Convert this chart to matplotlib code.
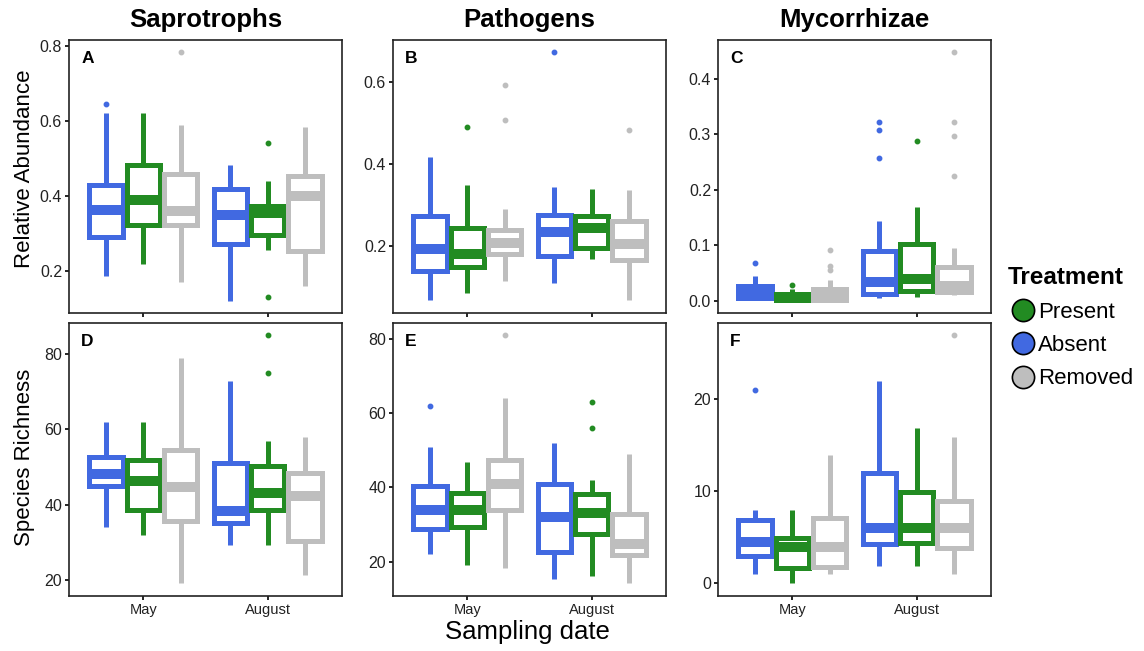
import matplotlib
matplotlib.use("Agg")
import matplotlib.pyplot as plt
from matplotlib.lines import Line2D

plt.rcParams['font.family'] = ['Liberation Sans', 'DejaVu Sans']

dates = ["May", "August"]
treatments = ["Absent", "Present", "Removed"]          # drawing order within each date
legend_order = ["Present", "Absent", "Removed"]
colors = {"Absent": "#4169E1", "Present": "#228B22", "Removed": "#BEBEBE"}
groups = ["Saprotrophs", "Pathogens", "Mycorrhizae"]
metrics = ["Relative Abundance", "Species Richness"]
letters = ["A", "B", "C", "D", "E", "F"]

# each list: May-Absent, May-Present, May-Removed, Aug-Absent, Aug-Present, Aug-Removed
A_lo  = [0.186, 0.218, 0.170, 0.120, 0.256, 0.160]
A_q1  = [0.291, 0.323, 0.322, 0.271, 0.297, 0.254]
A_med = [0.363, 0.390, 0.360, 0.348, 0.355, 0.400]
A_q3  = [0.428, 0.482, 0.459, 0.419, 0.373, 0.453]
A_hi  = [0.620, 0.620, 0.589, 0.483, 0.441, 0.583]
A_out = [[0.644], [], [0.783], [], [0.541, 0.131], []]

B_lo  = [0.069, 0.085, 0.116, 0.111, 0.169, 0.069]
B_q1  = [0.139, 0.150, 0.181, 0.175, 0.194, 0.165]
B_med = [0.193, 0.180, 0.207, 0.235, 0.243, 0.206]
B_q3  = [0.272, 0.243, 0.240, 0.275, 0.273, 0.261]
B_hi  = [0.416, 0.348, 0.289, 0.343, 0.338, 0.336]
B_out = [[], [0.490], [0.592, 0.507], [0.671], [], [0.482]]

C_lo  = [0.003, 0.000, 0.000, 0.005, 0.007, 0.010]
C_q1  = [0.005, 0.001, 0.002, 0.012, 0.017, 0.015]
C_med = [0.018, 0.006, 0.010, 0.033, 0.040, 0.027]
C_q3  = [0.026, 0.012, 0.021, 0.090, 0.103, 0.060]
C_hi  = [0.045, 0.022, 0.038, 0.144, 0.169, 0.095]
C_out = [[0.069], [0.029], [0.091, 0.063, 0.055], [0.322, 0.308, 0.258], [0.288], [0.448, 0.322, 0.297, 0.225]]

D_lo  = [34.1, 32.0, 19.1, 29.2, 29.2, 21.2]
D_q1  = [44.9, 38.7, 35.6, 35.2, 38.6, 30.3]
D_med = [48.3, 46.2, 44.6, 38.3, 43.2, 42.2]
D_q3  = [52.7, 51.8, 54.5, 51.1, 50.4, 48.5]
D_hi  = [62.1, 62.1, 78.9, 73.0, 56.9, 57.9]
D_out = [[], [], [], [], [85.1, 74.9], []]

E_lo  = [22.0, 19.1, 18.2, 15.2, 16.1, 14.2]
E_q1  = [28.9, 29.4, 34.0, 22.5, 27.4, 21.8]
E_med = [33.9, 34.0, 40.8, 32.1, 33.1, 24.7]
E_q3  = [40.3, 38.4, 47.3, 40.9, 38.3, 32.9]
E_hi  = [51.0, 46.9, 64.0, 51.9, 42.0, 49.0]
E_out = [[61.9], [], [81.1], [], [62.9, 56.0], []]

F_lo  = [1.0, 0.0, 1.0, 1.9, 1.9, 1.0]
F_q1  = [3.0, 1.7, 1.8, 4.3, 4.4, 3.8]
F_med = [4.5, 4.0, 4.0, 6.0, 6.0, 6.0]
F_q3  = [6.85, 4.9, 7.1, 12.0, 9.9, 8.9]
F_hi  = [8.0, 8.0, 13.9, 22.0, 16.9, 15.9]
F_out = [[21.0], [], [], [], [], [27.0]]

panels = [
    (A_lo, A_q1, A_med, A_q3, A_hi, A_out),
    (B_lo, B_q1, B_med, B_q3, B_hi, B_out),
    (C_lo, C_q1, C_med, C_q3, C_hi, C_out),
    (D_lo, D_q1, D_med, D_q3, D_hi, D_out),
    (E_lo, E_q1, E_med, E_q3, E_hi, E_out),
    (F_lo, F_q1, F_med, F_q3, F_hi, F_out),
]
ylims = [(0.088, 0.816), (0.037, 0.701), (-0.022, 0.470),
         (15.75, 88.3), (10.75, 84.3), (-1.38, 28.3)]
yticks = [[0.2, 0.4, 0.6, 0.8], [0.2, 0.4, 0.6], [0.0, 0.1, 0.2, 0.3, 0.4],
          [20, 40, 60, 80], [20, 40, 60, 80], [0, 10, 20]]
ytick_fmt = ["{:.1f}", "{:.1f}", "{:.1f}", "{:d}", "{:d}", "{:d}"]

W, H = 1144, 651
fig = plt.figure(figsize=(W / 100, H / 100), dpi=100)

lefts = [69, 393, 718]
tops = [40, 323]
aw, ah = 273, 273

box_lw = 3.6
offset = 0.3
bw = 0.27

for k in range(6):
    r, c = divmod(k, 3)
    ax = fig.add_axes([lefts[c] / W, 1 - (tops[r] + ah) / H, aw / W, ah / H])
    lo, q1, med, q3, hi, out = panels[k]
    for i in range(len(dates)):
        for j, t in enumerate(treatments):
            idx = i * 3 + j
            col = colors[t]
            st = [dict(med=med[idx], q1=q1[idx], q3=q3[idx], whislo=lo[idx],
                       whishi=hi[idx], fliers=out[idx])]
            ax.bxp(st, positions=[i + 1 + (j - 1) * offset], widths=bw,
                   showcaps=False, manage_ticks=False,
                   boxprops=dict(color=col, linewidth=box_lw, solid_joinstyle='miter'),
                   whiskerprops=dict(color=col, linewidth=box_lw, solid_capstyle='butt'),
                   medianprops=dict(color=col, linewidth=box_lw * 2, solid_capstyle='butt'),
                   flierprops=dict(marker='o', markersize=3.2, markerfacecolor=col,
                                   markeredgecolor=col, linestyle='none'))
    ax.set_xlim(0.4, 2.6)
    ax.set_ylim(*ylims[k])
    ax.set_xticks([1, 2])
    if r == 1:
        ax.set_xticklabels(dates, fontsize=10.5)
    else:
        ax.set_xticklabels([])
    ax.set_yticks(yticks[k])
    ax.set_yticklabels([ytick_fmt[k].format(v) for v in yticks[k]], fontsize=11.5)
    ax.tick_params(length=3, width=1.2, color='black', pad=2, labelcolor='#222222')
    for s in ax.spines.values():
        s.set_linewidth(1.2)
        s.set_color('#222222')
    ax.text(0.045, 0.958, letters[k], transform=ax.transAxes, fontsize=12.5,
            fontweight='bold', va='top', ha='left')

for c, g in enumerate(groups):
    fig.text((lefts[c] + aw / 2) / W, 1 - 20 / H, g, ha='center', va='center',
             fontsize=18.5, fontweight='bold')

ylabel_y = [169, 457]
for r, m in enumerate(metrics):
    fig.text(25 / W, 1 - ylabel_y[r] / H, m, rotation=90,
             ha='center', va='center', fontsize=16)

fig.text(527 / W, 1 - 632 / H, "Sampling date", ha='center', va='center', fontsize=18.5)

handles = [Line2D([], [], marker='o', linestyle='none', markersize=16,
                  markerfacecolor=colors[t], markeredgecolor='black',
                  markeredgewidth=1.2) for t in legend_order]
leg = fig.legend(handles, legend_order, title="Treatment", loc='upper left',
                 bbox_to_anchor=(997 / W, 1 - 255 / H), frameon=False,
                 fontsize=16, title_fontproperties=dict(size=17.5, weight='bold'),
                 handletextpad=0.05, labelspacing=0.56, borderpad=0,
                 handlelength=1.3, alignment='left')

fig.savefig("out.png", dpi=100)
